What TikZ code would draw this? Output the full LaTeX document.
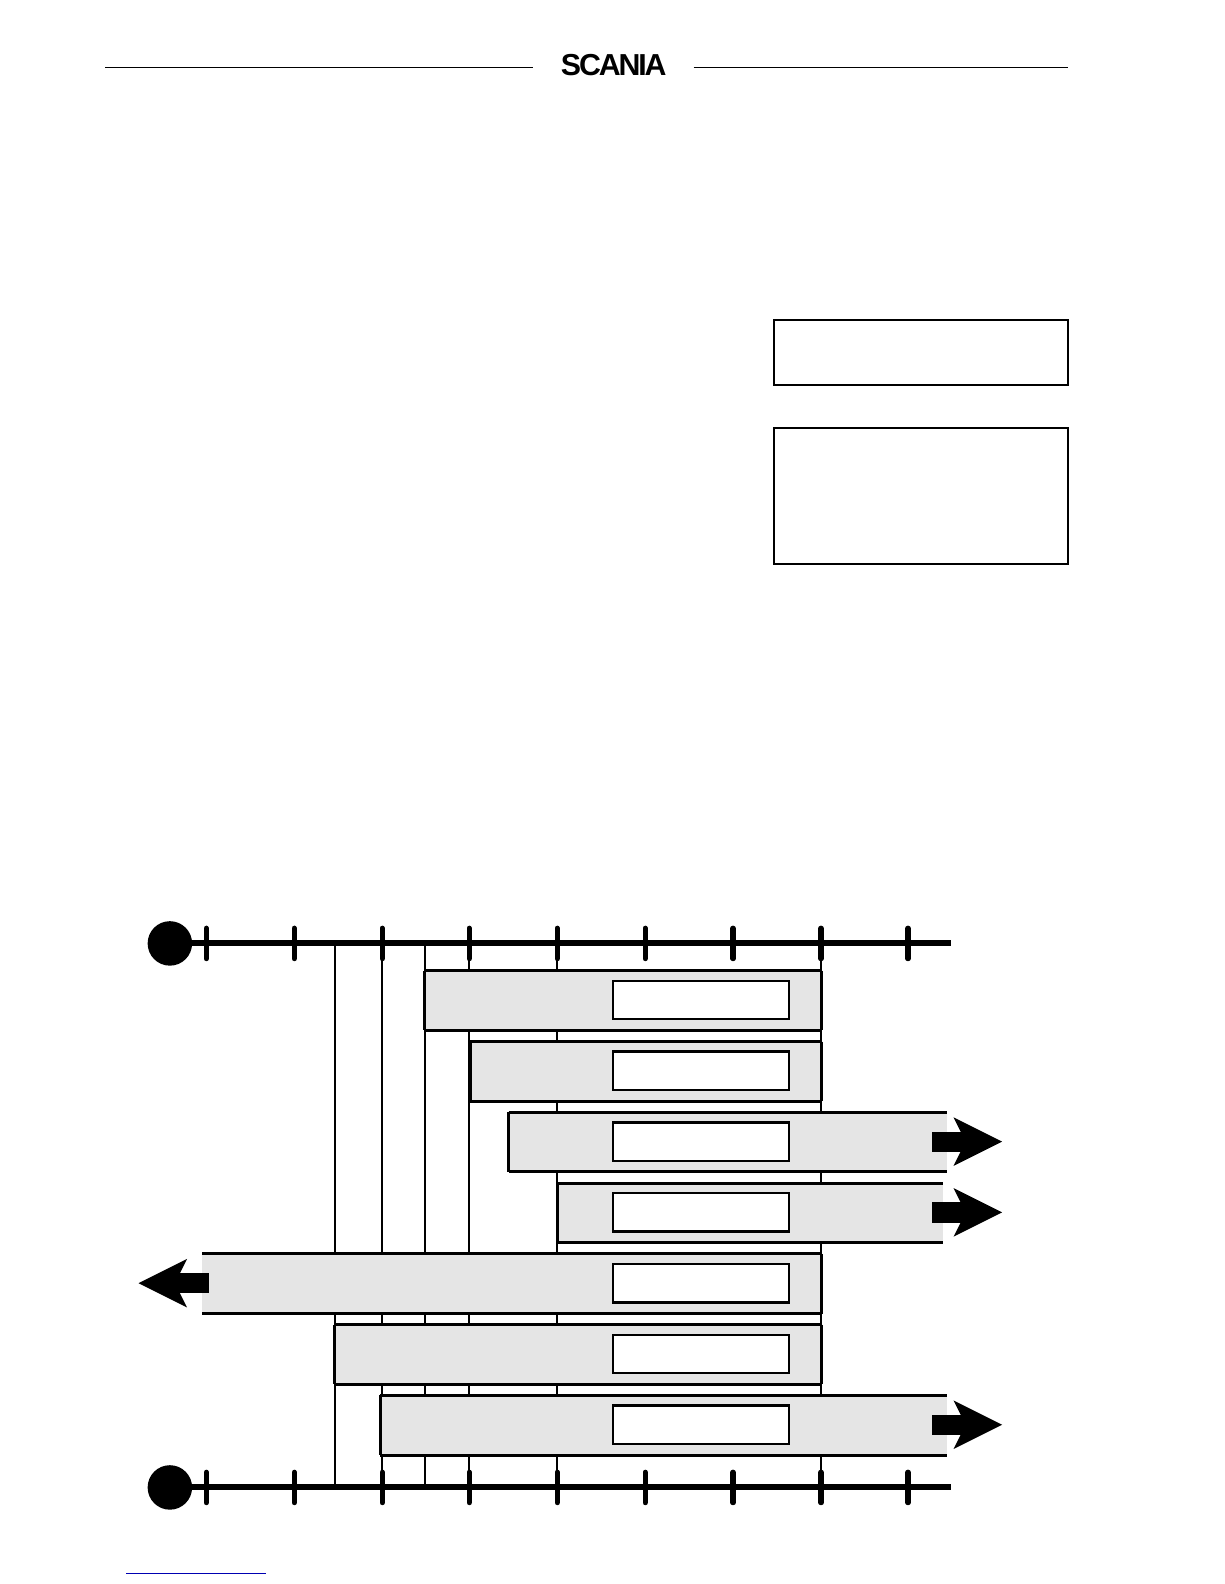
\documentclass[tikz,border=0pt]{standalone}
\usepackage{fontspec}
\setmainfont{Liberation Sans}
\newcommand\bandbox[4]{%
  \fill[band] (#1,#3) rectangle (#2,#4);%
  \draw[bline] (#1,#3) -- (#2,#3); \draw[bline] (#1,#4) -- (#2,#4);%
  \draw[inbox] (606,#3+10) rectangle (780,#3+48);}
\begin{document}
\begin{tikzpicture}[x=0.5pt,y=-0.5pt,
  band/.style={fill=black!10,draw=none},
  bline/.style={line width=1.5pt},
  inbox/.style={fill=white,draw,line width=1.2pt},
  axis/.style={line width=3pt},
  tick/.style={line width=2.6pt,line cap=round},
  vline/.style={line width=1pt},
  frame/.style={draw,line width=1pt}]
% header
\draw[line width=0.7pt] (104,67) -- (527,67);
\draw[line width=0.7pt] (686,67) -- (1056,67);
\node (logo) at (607,64) {\bfseries\fontsize{15}{15}\selectfont\addfontfeature{LetterSpace=-7}SCANIA};
% boxes
\draw[frame] (765,316) rectangle (1056,381);
\draw[frame] (765,423) rectangle (1056,558);
% verticals
\foreach \x in {331,378,420,464,551,812}{\draw[vline] (\x,933) -- (\x,1471);}
% bands
\bandbox{420}{812}{960}{1019}
\draw[bline] (420,960)--(420,1019) (812,960)--(812,1019);
\bandbox{465}{812}{1030}{1089}
\draw[bline] (465,1030)--(465,1089) (812,1030)--(812,1089);
\bandbox{503}{937}{1100}{1159}
\draw[bline] (503,1100)--(503,1159);
\bandbox{551}{933}{1170}{1229}
\draw[bline] (551,1170)--(551,1229);
\bandbox{200}{812}{1240}{1299}
\draw[bline] (812,1240)--(812,1299);
\bandbox{331}{812}{1310}{1369}
\draw[bline] (331,1310)--(331,1369) (812,1310)--(812,1369);
\bandbox{376}{937}{1380}{1439}
\draw[bline] (376,1380)--(376,1439);
% arrows
\foreach \y in {1129,1199,1409}{
  \fill (922,\y-10) rectangle (958,\y+10);
  \fill (943,\y-24) -- (991,\y) -- (943,\y+24) -- (955,\y) -- cycle;}
\fill (207,1259) rectangle (172,1279);
\fill (185,1245) -- (137,1269) -- (185,1293) -- (173,1269) -- cycle;
% axes
\foreach \y in {933,1471}{
  \draw[axis] (168,\y) -- (940,\y);
  \fill (168,\y) circle[radius=22];
  \foreach \x in {204,291,378,464,551,638,725,812,898}{\draw[tick] (\x,\y-15) -- (\x,\y+15);}}
% footer link line
\draw[blue!70!black,line width=0.6pt] (125,1556) -- (263,1556);
\pgfresetboundingbox
\useasboundingbox (0,0) rectangle (1210.5,1566.5);
\end{tikzpicture}
\end{document}
